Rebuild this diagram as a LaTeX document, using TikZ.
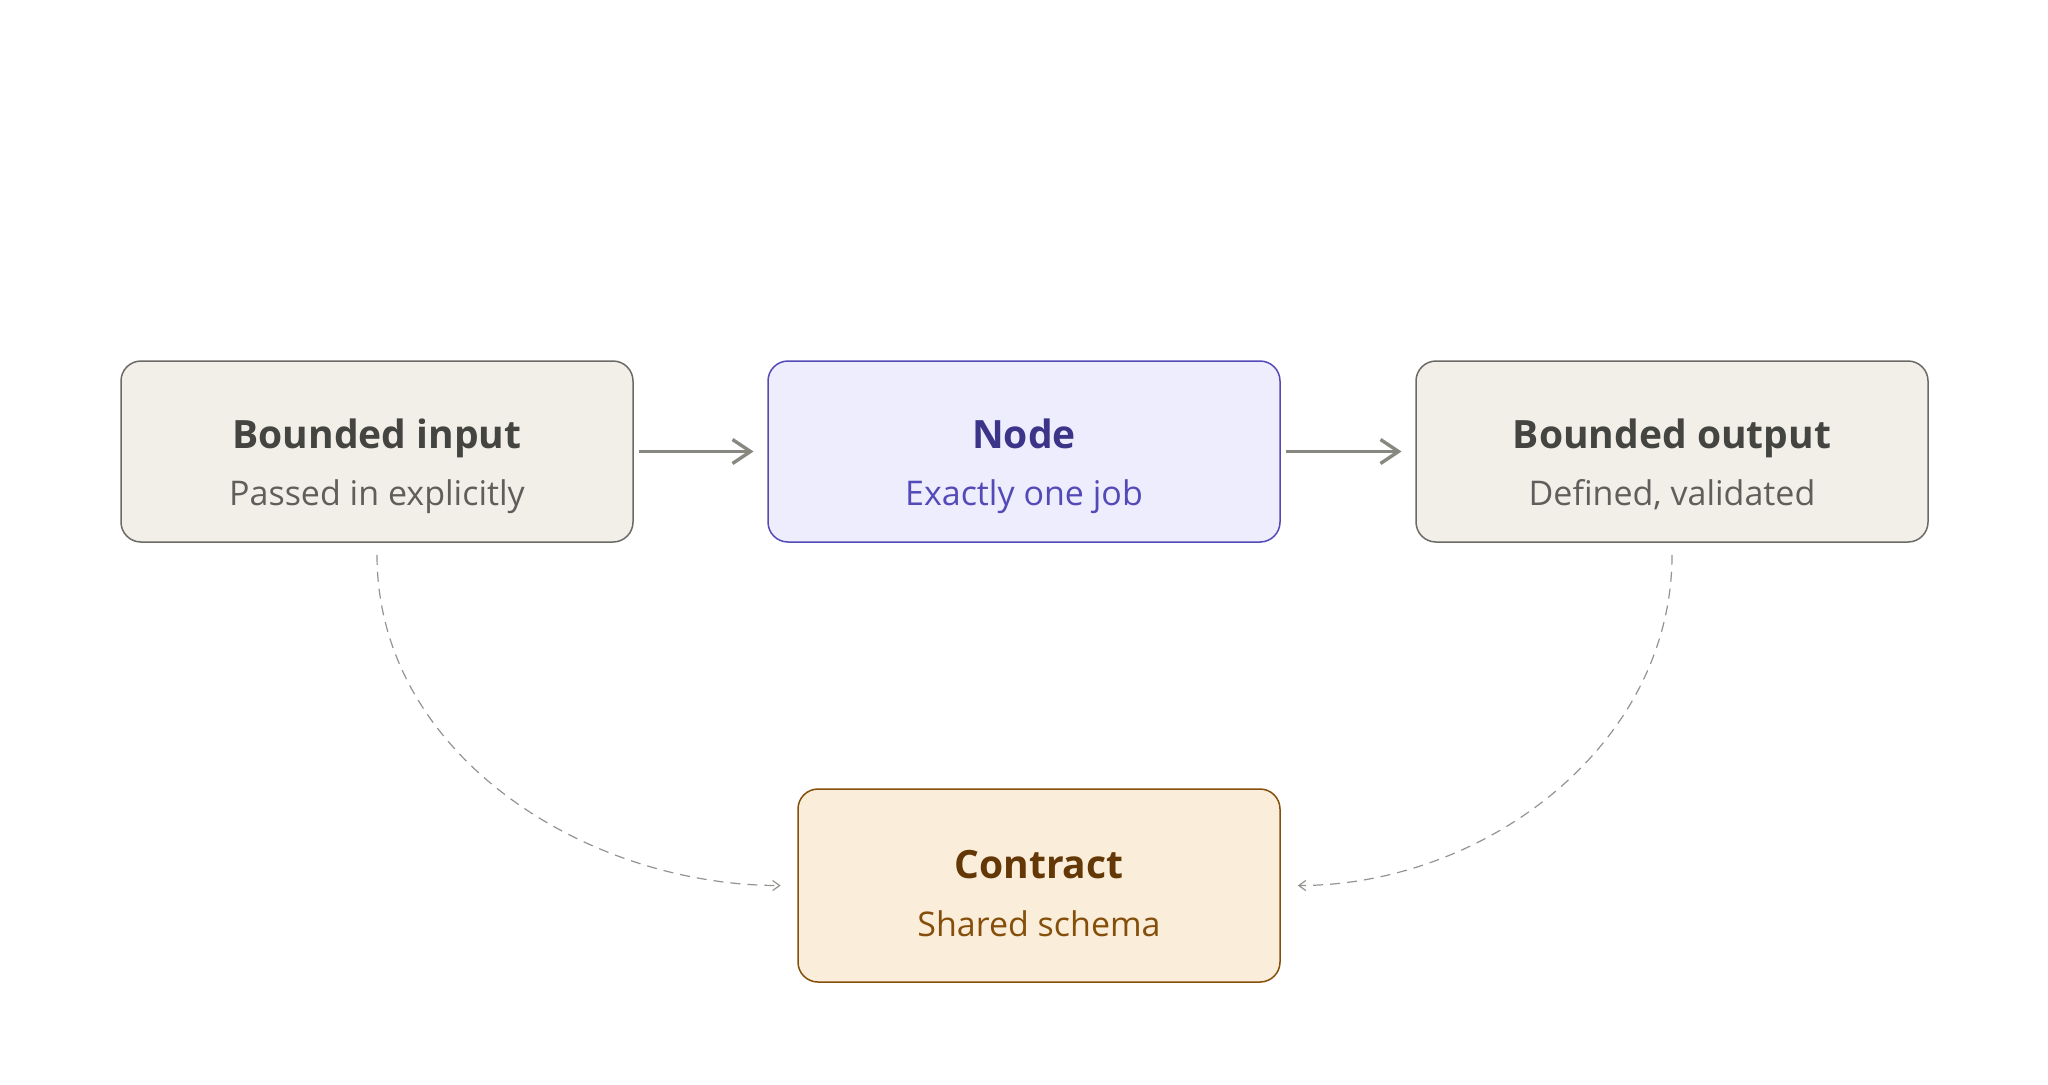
\documentclass[tikz,border=0pt]{standalone}
\usepackage{fontspec}
\setmainfont{Open Sans}
\usepackage{xcolor}
\usepackage{tikz}
\usetikzlibrary{arrows.meta}
\definecolor{grayfill}{HTML}{F1EFE8}
\definecolor{graydraw}{HTML}{6B6A65}
\definecolor{graytitle}{HTML}{444441}
\definecolor{graysub}{HTML}{5F5E5A}
\definecolor{jobfill}{HTML}{EEEDFE}
\definecolor{jobdraw}{HTML}{534AB7}
\definecolor{jobtitle}{HTML}{3C3489}
\definecolor{contractfill}{HTML}{FAEEDA}
\definecolor{contractdraw}{HTML}{854F0B}
\definecolor{contracttitle}{HTML}{633806}
\definecolor{flowgray}{HTML}{888780}
\tikzstyle{stage}=[rectangle,rounded corners=10pt,draw=graydraw,fill=grayfill,line width=0.75pt,minimum width=256pt,minimum height=90.5pt,inner sep=0pt]
\tikzstyle{heading}=[anchor=base,inner sep=0pt,font=\bfseries\fontsize{19.5}{24}\selectfont,text=graytitle]
\tikzstyle{subline}=[anchor=base,inner sep=0pt,font=\fontsize{17}{20}\selectfont,text=graysub]
\tikzstyle{flow}=[draw,line width=1.7pt,flowgray,-{Straight Barb[length=9pt,width=12pt]}]
\tikzstyle{dashedflow}=[draw,line width=0.6pt,flowgray!90,dash pattern=on 5pt off 3.5pt,-{Straight Barb[length=3.5pt,width=5pt]}]

\begin{document}
\begin{tikzpicture}[x=0.5pt,y=0.5pt]

\useasboundingbox (0,0) rectangle (2048,-1084);

 %bounded input and output
 \foreach \x/\y/\name/\title/\sub in {377/-451.5/input/Bounded input/Passed in explicitly, 1672/-451.5/output/Bounded output/{Defined, validated}}
 {
  \node[stage] (\name) at (\x,\y) {};
  \node[heading] (\name title) at (\x,\y+3.5) {\title};
  \node[subline] (\name sub) at (\x,\y-53.5) {\sub};
 }

 %node
 \node[stage,draw=jobdraw,fill=jobfill] (job) at (1024,-451.5) {};
 \node[heading,text=jobtitle] (jobtitle) at (1024,-448) {Node};
 \node[subline,text=jobdraw] (jobsub) at (1024,-505) {Exactly one job};

 %contract
 \node[stage,draw=contractdraw,fill=contractfill,minimum width=241pt,minimum height=96.5pt] (contract) at (1039,-885.5) {};
 \node[heading,text=contracttitle] (contracttitle) at (1039,-878) {Contract};
 \node[subline,text=contractdraw] (contractsub) at (1039,-936) {Shared schema};

 \foreach \source/\dest in {input/job, job/output}
   \path[flow,shorten <=2.65pt,shorten >=6.85pt] (\source.east) -- (\dest.west);

 \path[dashedflow,shorten <=6pt,shorten >=8.3pt] (input.south) to[out=-90,in=180] (contract.west);
 \path[dashedflow,shorten <=6pt,shorten >=8.5pt] (output.south) to[out=-90,in=0] (contract.east);

\end{tikzpicture}
\end{document}
